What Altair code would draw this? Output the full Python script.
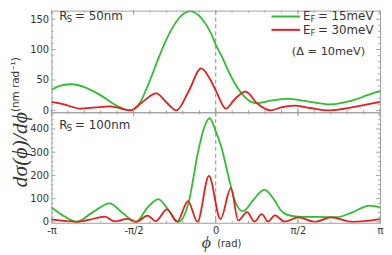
import altair as alt
import pandas as pd
import numpy as np

PI = float(np.pi)

# ---------------- data ----------------
# Panel 1: R_S = 50 nm
top_green_phi = [-3.1416, -2.95, -2.75, -2.50, -2.22, -1.90, -1.632, -1.46, -1.27, -1.085, -0.896,
                 -0.708, -0.49, -0.27, -0.08, 0.0, 0.12, 0.24, 0.42, 0.61, 0.77, 1.05, 1.37,
                 1.75, 2.19, 2.60, 2.90, 3.1416]
top_green_val = [34, 41, 43, 38, 26, 8, 0, 11, 47, 88, 125,
                 151, 163, 151, 125, 108, 88, 65, 37, 18, 12, 16, 19,
                 15, 10, 16, 25, 32]
top_red_phi = [-3.1416, -2.90, -2.59, -2.30, -2.03, -1.85, -1.632, -1.40, -1.135, -0.94, -0.752,
               -0.52, -0.28, -0.10, 0.0, 0.195, 0.36, 0.57, 0.80, 1.05, 1.25, 1.50, 1.80,
               2.18, 2.60, 3.1416]
top_red_val = [14, 10, 3, 5, 6.5, 4, 0, 14, 28, 13, 0,
               31, 69, 50, 33, 3, 18, 31, 11, 0, 5, 8, 4,
               0, 5, 14]

# Panel 2: R_S = 100 nm
bot_green_phi = [-3.1416, -2.95, -2.66, -2.35, -2.03, -1.78, -1.525, -1.31, -1.10, -0.90, -0.71,
                 -0.52, -0.33, -0.23, -0.12, 0.0, 0.11, 0.23, 0.36, 0.52, 0.72, 0.93, 1.12,
                 1.24, 1.37, 1.56, 2.00, 2.31, 2.60, 2.94, 3.1416]
bot_green_val = [62, 32, 0, 42, 80, 38, 0, 60, 98, 50, 0,
                 82, 310, 400, 447, 391, 320, 208, 94, 45, 95, 139, 94,
                 51, 30, 23, 21, 20, 40, 70, 62]
bot_red_phi = [-3.1416, -2.95, -2.66, -2.40, -2.12, -1.93, -1.69, -1.525, -1.30, -1.15, -0.93,
               -0.74, -0.53, -0.35, -0.13, 0.09, 0.29, 0.43, 0.60, 0.74, 0.88, 1.00, 1.13,
               1.32, 1.58, 1.90, 2.20, 2.62, 3.1416]
bot_red_val = [11, 5, 0, 10, 23, 2, 13, 0, 27, 3, 54,
               0, 89, 0, 198, 12, 145, 6, 42, 1, 33, 1, 28,
               1, 19, 0, 19, 0, 12]

series_names = ["E_F = 15meV", "E_F = 30meV"]
series_colors = ["#2cbf2c", "#e81c1c"]

top_y_major = [0, 50, 100, 150]
top_y_minor = [10, 20, 30, 40, 60, 70, 80, 90, 110, 120, 130, 140, 160]
bot_y_major = [0, 100, 200, 300, 400]
bot_y_minor = [20, 40, 60, 80, 120, 140, 160, 180, 220, 240, 260, 280, 320, 340, 360, 380, 420, 440, 460]
x_major = [-PI, -PI / 2, 0.0, PI / 2, PI]
x_major_labels = ["-π", "-π/2", "0", "π/2", "π"]
x_minor = [k * PI / 10 for k in range(-10, 11)]

# ---------------- styling ----------------
W = 333
H_TOP = 103
H_BOT = 112
TOP_DOM = [-3, 164]
BOT_DOM = [-4, 472]
FRAME = "#a0a0a0"
TXT = "#333333"
SANS = "DejaVu Sans"
SERIF = "Liberation Serif"

xscale = alt.Scale(domain=[-PI, PI], nice=False, zero=False)

label_expr = (
    f"datum.value < -2 ? '{x_major_labels[0]}' : datum.value < -0.5 ? '{x_major_labels[1]}' : "
    f"datum.value < 0.5 ? '{x_major_labels[2]}' : datum.value < 2 ? '{x_major_labels[3]}' : '{x_major_labels[4]}'"
)

one = pd.DataFrame({"d": [0]})


def curves_df(gp, gv, rp, rv):
    return pd.DataFrame({
        "phi": list(gp) + list(rp),
        "val": list(gv) + list(rv),
        "series": [series_names[0]] * len(gp) + [series_names[1]] * len(rp),
    })


def label(s, x, y, size=12, font=SANS, align="left", style="normal", angle=0, baseline="middle"):
    return alt.Chart(one).mark_text(
        text=s, align=align, baseline=baseline, font=font, fontSize=size,
        fontStyle=style, color=TXT, angle=angle
    ).encode(x=alt.value(x), y=alt.value(y))


def panel(df, ydom, h, ymaj, ymin, show_x):
    ys = alt.Scale(domain=ydom, nice=False, zero=False)
    yaxis = alt.Axis(values=ymaj, ticks=False, domain=False, grid=False, labelFont=SANS,
                     labelFontSize=10, labelColor=TXT, labelPadding=3, title=None)
    if show_x:
        xaxis = alt.Axis(values=x_major, labelExpr=label_expr, ticks=False, domain=False, grid=False,
                         labelFont=SANS, labelFontSize=10, labelColor=TXT, labelPadding=3,
                         labelFlush=False, labelOverlap=False, labelBound=False, title=None)
    else:
        xaxis = None

    def X(f):
        return alt.X(f, scale=xscale, axis=xaxis)

    def Y(f):
        return alt.Y(f, scale=ys, axis=yaxis)

    lines = alt.Chart(df).mark_line(interpolate="monotone", strokeWidth=1.8, clip=True).encode(
        x=X("phi:Q"),
        y=Y("val:Q"),
        color=alt.Color("series:N", scale=alt.Scale(domain=series_names, range=series_colors), legend=None),
    )
    zero_line = alt.Chart(pd.DataFrame({"phi": [0.0]})).mark_rule(
        color="#8c8c8c", strokeDash=[4, 3], strokeWidth=1
    ).encode(x=X("phi:Q"))
    layers = [zero_line, lines]
    for vals, ln in ((x_major, 4), (x_minor, 2)):
        d = pd.DataFrame({"phi": vals})
        for y0, y1 in ((h, h - ln), (0, ln)):
            layers.append(alt.Chart(d).mark_rule(color=FRAME, strokeWidth=1).encode(
                x=X("phi:Q"), y=alt.value(y0), y2=alt.value(y1)))
    for vals, ln in ((ymaj, 4), (ymin, 2)):
        d = pd.DataFrame({"val": vals})
        for x0, x1 in ((0, ln), (W, W - ln)):
            layers.append(alt.Chart(d).mark_rule(color=FRAME, strokeWidth=1).encode(
                y=Y("val:Q"), x=alt.value(x0), x2=alt.value(x1)))
    return layers


top_layers = panel(curves_df(top_green_phi, top_green_val, top_red_phi, top_red_val),
                   TOP_DOM, H_TOP, top_y_major, top_y_minor, False)
top_layers += [
    label("R", 8, 6),
    label("S", 15.5, 9, size=8.5),
    label("= 50nm", 24, 6),
    alt.Chart(one).mark_rule(color=series_colors[0], strokeWidth=2).encode(
        x=alt.value(223), x2=alt.value(252), y=alt.value(6)),
    alt.Chart(one).mark_rule(color=series_colors[1], strokeWidth=2).encode(
        x=alt.value(223), x2=alt.value(252), y=alt.value(19.5)),
    label("E", 255, 6),
    label("F", 262.5, 9, size=8.5),
    label("= 15meV", 270, 6),
    label("E", 255, 19.5),
    label("F", 262.5, 22.5, size=8.5),
    label("= 30meV", 270, 19.5),
    label("(Δ = 10meV)", 318, 41.5, size=11.5, align="right"),
    label("(nm rad⁻¹)", -41, 75, size=10.5, angle=270, align="center", baseline="top"),
]
top = alt.layer(*top_layers).properties(width=W, height=H_TOP)

bot_layers = panel(curves_df(bot_green_phi, bot_green_val, bot_red_phi, bot_red_val),
                   BOT_DOM, H_BOT, bot_y_major, bot_y_minor, True)
bot_layers += [
    label("R", 8, 12.5),
    label("S", 15.5, 15.5, size=8.5),
    label("= 100nm", 24, 12.5),
    label("dσ(ϕ)/dϕ", -32, 38, size=22, font=SERIF, style="italic", angle=270, align="center"),
    label("ϕ", 157, 133, size=18, font=SERIF, style="italic", align="center"),
    label("(rad)", 168, 134, size=10, align="left"),
]
bottom = alt.layer(*bot_layers).properties(width=W, height=H_BOT)

chart = alt.vconcat(top, bottom, spacing=0, bounds="flush").properties(
    padding=0
).configure_view(stroke=FRAME, strokeWidth=1)

chart.save("out.html", embed_options={"renderer": "svg", "actions": False})
